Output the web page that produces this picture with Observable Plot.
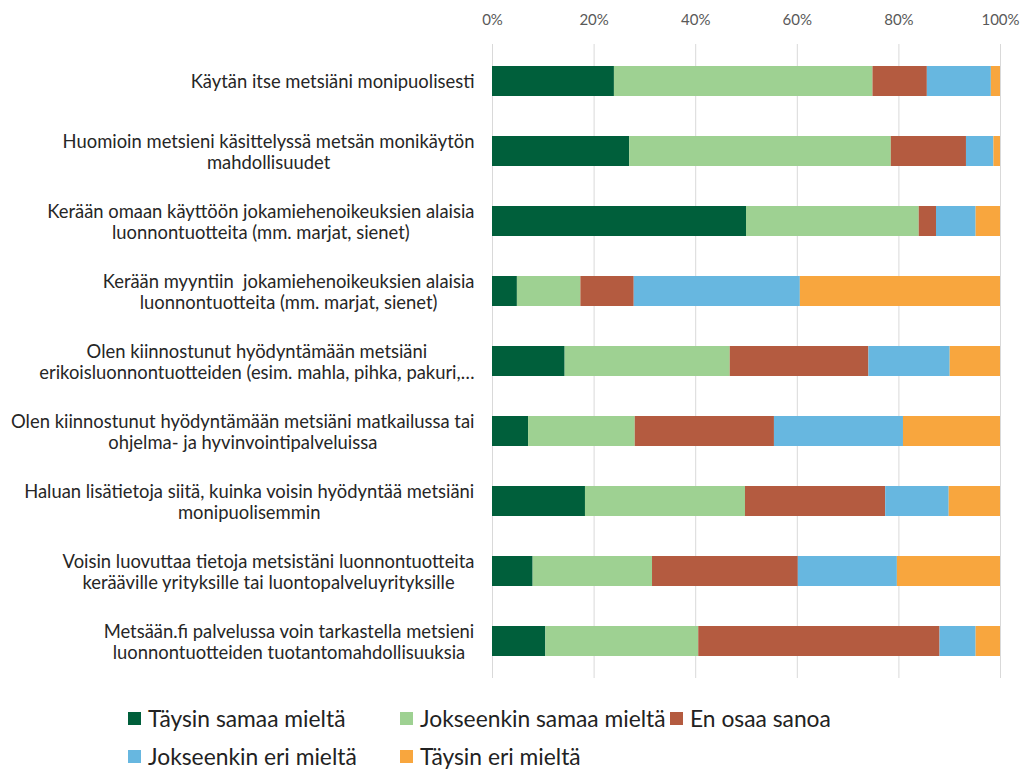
<!DOCTYPE html>
<html>
<head>
<meta charset="utf-8">
<script src="https://cdn.jsdelivr.net/npm/d3@7"></script>
<script src="https://cdn.jsdelivr.net/npm/@observablehq/plot@0.6"></script>
<style>
  body { margin: 0; background: #fff; font-family: Lato, "Open Sans", sans-serif; }
  #wrap { width: 1021px; position: relative; }
  #legend { position: relative; height: 79px; }
  .item { position: absolute; display: flex; align-items: center; font-size: 22.8px; color: #222; white-space: nowrap; }
  .sw { width: 13px; height: 13px; margin-right: 7px; }
</style>
</head>
<body>
<div id="wrap"></div>
<script>
const categories = [
  "Käytän itse metsiäni monipuolisesti",
  "Huomioin metsieni käsittelyssä metsän monikäytön\nmahdollisuudet",
  "Kerään omaan käyttöön jokamiehenoikeuksien alaisia\nluonnontuotteita (mm. marjat, sienet)",
  "Kerään myyntiin  jokamiehenoikeuksien alaisia\nluonnontuotteita (mm. marjat, sienet)",
  "Olen kiinnostunut hyödyntämään metsiäni\nerikoisluonnontuotteiden (esim. mahla, pihka, pakuri,…",
  "Olen kiinnostunut hyödyntämään metsiäni matkailussa tai\nohjelma- ja hyvinvointipalveluissa",
  "Haluan lisätietoja siitä, kuinka voisin hyödyntää metsiäni\nmonipuolisemmin",
  "Voisin luovuttaa tietoja metsistäni luonnontuotteita\nkerääville yrityksille tai luontopalveluyrityksille",
  "Metsään.fi palvelussa voin tarkastella metsieni\nluonnontuotteiden tuotantomahdollisuuksia"
];
const seriesNames = ["Täysin samaa mieltä", "Jokseenkin samaa mieltä", "En osaa sanoa", "Jokseenkin eri mieltä", "Täysin eri mieltä"];
const taysinSamaa     = [24.0, 27.0, 50.0, 4.9, 14.3, 7.1, 18.3, 8.0, 10.5];
const jokseenkinSamaa = [50.9, 51.5, 34.0, 12.5, 32.5, 21.0, 31.5, 23.5, 30.1];
const enOsaa          = [10.7, 14.8, 3.4, 10.5, 27.3, 27.4, 27.6, 28.7, 47.5];
const jokseenkinEri   = [12.6, 5.4, 7.8, 32.7, 16.0, 25.4, 12.5, 19.5, 7.1];
const taysinEri       = [1.8, 1.3, 4.8, 39.4, 9.9, 19.1, 10.1, 20.3, 4.8];
const xTicks = [0, 20, 40, 60, 80, 100];
const colors = ["#005f3b", "#9ed192", "#b45b40", "#67b7e0", "#f8a63e"];

const seriesValues = [taysinSamaa, jokseenkinSamaa, enOsaa, jokseenkinEri, taysinEri];
const data = [];
categories.forEach((c, i) => {
  seriesNames.forEach((s, j) => data.push({category: c, series: s, value: seriesValues[j][i]}));
});

const labelFont = "18.4px Lato";
const ctx = document.createElement("canvas").getContext("2d");
ctx.font = labelFont;
const labelMarks = categories.map(c => {
  const w = d3.max(c.split("\n"), line => ctx.measureText(line).width);
  return Plot.text([c], {
    x: () => 0, y: d => d, text: d => d,
    textAnchor: "middle", dx: -(18 + w / 2),
    fontSize: 18.4, lineHeight: 1.15, fill: "#262626"
  });
});

const chart = Plot.plot({
  width: 1021,
  height: 690,
  marginLeft: 492,
  marginRight: 21,
  marginTop: 44,
  marginBottom: 12,
  style: {fontFamily: "Lato, 'Open Sans', sans-serif", background: "#fff"},
  x: {domain: [0, 100]},
  y: {domain: categories, paddingInner: 0.57, paddingOuter: 0.285, axis: null},
  color: {domain: seriesNames, range: colors},
  marks: [
    Plot.gridX(xTicks, {stroke: "#d9d9d9", strokeOpacity: 1}),
    Plot.barX(data, Plot.stackX({y: "category", x: "value", fill: "series", order: null})),
    Plot.axisX(xTicks, {anchor: "top", tickSize: 0, tickPadding: 20, tickFormat: d => d + "%", fontSize: 15, fill: "#595959", label: null}),
    ...labelMarks
  ]
});
const wrap = document.getElementById("wrap");
wrap.appendChild(chart);

const legend = document.createElement("div");
legend.id = "legend";
const pos = [[128, 29], [400, 29], [670, 29], [128, 67], [400, 67]];
seriesNames.forEach((s, j) => {
  const it = document.createElement("div");
  it.className = "item";
  it.style.left = pos[j][0] + "px";
  it.style.top = (pos[j][1] - 15) + "px";
  it.innerHTML = `<span class="sw" style="background:${colors[j]}"></span><span>${s}</span>`;
  legend.appendChild(it);
});
wrap.appendChild(legend);
</script>
</body>
</html>
